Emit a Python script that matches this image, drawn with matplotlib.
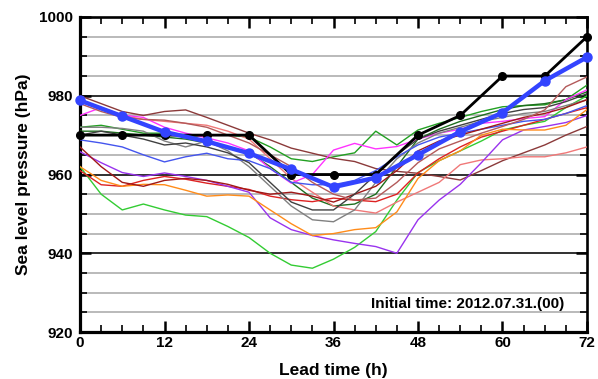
import matplotlib
matplotlib.use("Agg")
import matplotlib.pyplot as plt
import numpy as np
from matplotlib.ticker import MultipleLocator

plt.rcParams['font.family'] = ['Liberation Sans', 'DejaVu Sans']

# ---------------- data ----------------
obs_time = [0, 6, 12, 18, 24, 30, 36, 42, 48, 54, 60, 66, 72]
obs_slp = [970, 970, 970, 970, 970, 960, 960, 960, 970, 975, 985, 985, 995]

mean_time = [0, 6, 12, 18, 24, 30, 36, 42, 48, 54, 60, 66, 72]
mean_slp = [978.8, 974.8, 970.8, 968.4, 965.4, 961.3, 956.8, 959.2, 965.0, 970.9, 975.7, 983.8, 989.8]

member_time = list(range(0, 73, 3))
member_colors = ["#33cc33", "#22a022", "#1e6e1e", "#8b3a3a", "#dd2222", "#f07878",
                 "#ff33ff", "#808080", "#4455ee", "#9933ee", "#ff8c1a", "#a01818",
                 "#404040", "#b35a5a"]
m_green = [962, 955, 951, 952.5, 951, 949.7, 949.3, 946.8, 944, 940, 937, 936.2, 938.5,
           941.5, 945.5, 953.5, 960.5, 963.5, 966, 968.5, 971.3, 972.5, 973.5, 977, 980]
m_green2 = [972, 972.5, 971.5, 970.5, 970.5, 969.5, 970, 970, 969.5, 967, 964, 963.3, 964.5,
            965.5, 971, 967.5, 971.3, 973, 974.5, 976, 977.2, 977.5, 977.7, 979, 982.7]
m_dgreen = [971, 971, 970.5, 970, 969.5, 969, 968, 967, 965.5, 962, 958, 954, 952,
            952.5, 955, 962, 969, 971.5, 973.5, 975, 976.5, 977.5, 978, 979, 981]
m_brown = [980, 978, 976, 975, 976, 976.4, 974.5, 972.5, 970.5, 968.8, 966.7, 965.4, 964.1,
           963.3, 961.5, 960.8, 960.3, 959.5, 958.6, 961, 963.5, 965.5, 967.5, 970, 972.2]
m_red = [961, 957.4, 957, 958.5, 959.5, 958.8, 957.8, 957, 956.2, 954.5, 953.6, 953.1, 954,
         953.5, 953.1, 955, 960.4, 964, 967, 969.5, 971, 972.5, 974, 975.5, 977]
m_salmon = [979, 976.5, 975, 974, 973.5, 973, 972.5, 971, 969, 964, 959, 955.5, 952,
            951, 950.2, 953, 955.5, 958, 962.5, 963.7, 964, 964.5, 964.5, 965.5, 967]
m_magenta = [975, 977, 975.1, 974.5, 972, 970.5, 969.3, 968, 966, 961.5, 957.8, 960, 966.2,
             967.9, 966.5, 967.1, 969, 970.5, 971.5, 973, 973.5, 974.2, 974.7, 979, 981.5]
m_gray = [972, 972, 971.7, 971, 968.5, 967, 968.5, 966, 962, 957, 952, 948.5, 948,
          951, 958, 964, 968, 970.5, 972, 973.5, 974.5, 975.5, 976, 977.5, 979]
m_blue = [968.8, 968, 967, 965, 963.2, 964.5, 965.4, 964, 963.5, 961.5, 958, 957.4, 957.4,
          958.5, 961, 964.5, 967.5, 969.5, 970.5, 971.5, 972.5, 973.5, 974, 975.5, 977.5]
m_purple = [965.8, 963, 960.5, 959.5, 960.4, 959.5, 958.5, 957, 955.5, 949, 946, 944.5, 943.4,
            942.5, 941.7, 940, 948.5, 953.5, 957.5, 963, 968.8, 971.3, 972.2, 973.2, 975]
m_orange = [962, 958.5, 957, 957.5, 957.4, 956, 954.5, 954.8, 954.5, 951, 947.5, 944.5, 945,
            946, 946.5, 950.5, 959, 963.5, 966, 970, 971.5, 971.3, 971.3, 972.5, 976.5]
m_dred = [967, 962, 958, 957, 958.5, 959, 958.5, 957.5, 956, 955, 955.5, 954.5, 953,
          955, 957, 961, 966, 968.5, 970, 971.5, 973, 974.5, 975.5, 977, 979]
m_dgray = [970, 971, 970, 969, 967.5, 968, 967, 965.5, 963, 958, 953, 951, 951,
           955, 960, 965, 969, 971, 972.5, 974, 975.5, 976.5, 977, 978.5, 980.5]
m_rosy = [978, 976, 974.5, 974, 973.8, 973, 972, 970, 968, 965, 962, 958, 955,
          953.5, 954, 958, 963, 966.5, 968.5, 970.5, 972.2, 974, 976.4, 982.3, 984.8]
members = [m_green, m_green2, m_dgreen, m_brown, m_red, m_salmon, m_magenta,
           m_gray, m_blue, m_purple, m_orange, m_dred, m_dgray, m_rosy]

x_ticks = [0, 12, 24, 36, 48, 60, 72]
y_ticks = [920, 940, 960, 980, 1000]

# ---------------- figure ----------------
fig = plt.figure(figsize=(5.98, 3.79), dpi=100)
ax = fig.add_axes([80 / 598, 1 - 332 / 379, (587 - 80) / 598, (332 - 17) / 379])

for vals, c in zip(members, member_colors):
    ax.plot(member_time, vals, color=c, lw=1.0, zorder=3)

ax.plot(obs_time, obs_slp, color='black', lw=2.0, marker='o', ms=5.5, zorder=4, clip_on=False)
ax.plot(mean_time, mean_slp, color='#3344ff', lw=3.2, marker='o', ms=6.5, zorder=5, clip_on=False)

ax.set_xlim(0, 72)
ax.set_ylim(920, 1000)
ax.set_xticks(x_ticks)
ax.set_yticks(y_ticks)
ax.xaxis.set_minor_locator(MultipleLocator(3))
ax.yaxis.set_minor_locator(MultipleLocator(5))

# grid lines
for v in np.arange(925, 1000, 5):
    if v % 20 == 0:
        ax.axhline(v, color='#303030', lw=1.4, zorder=1)
    else:
        ax.axhline(v, color='#b4b4b4', lw=1.3, zorder=1)

ax.tick_params(axis='both', which='major', direction='in', length=8, width=1.8,
               top=True, right=True, labelsize=11)
ax.tick_params(axis='both', which='minor', direction='in', length=5, width=1.2,
               top=True, right=True)
ax.tick_params(axis='x', which='major', pad=3)
ax.tick_params(axis='y', which='major', pad=5)
for lab in ax.get_xticklabels() + ax.get_yticklabels():
    lab.set_fontweight('bold')

for side in ['left', 'bottom']:
    ax.spines[side].set_linewidth(2.3)
for side in ['top', 'right']:
    ax.spines[side].set_linewidth(1.9)

ax.set_xlabel('Lead time (h)', fontsize=12.5, fontweight='bold', labelpad=9)
ax.set_ylabel('Sea level pressure (hPa)', fontsize=12.5, fontweight='bold', labelpad=6)

ax.text(0.955, 0.09, 'Initial time: 2012.07.31.(00)', transform=ax.transAxes,
        ha='right', va='center', fontsize=11, fontweight='bold', zorder=6)

fig.savefig('out.png', dpi=100)
